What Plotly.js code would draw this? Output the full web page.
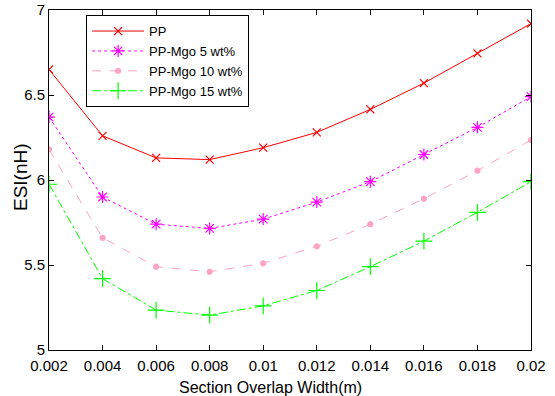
<!DOCTYPE html>
<html><head><meta charset="utf-8">
<script src="https://cdn.plot.ly/plotly-3.0.1.min.js"></script>
<style>html,body{margin:0;padding:0;background:#fff;}#chart{width:555px;height:396px;}</style>
</head><body><div id="chart"></div>
<script>
const widths = [0.002, 0.004, 0.006, 0.008, 0.010, 0.012, 0.014, 0.016, 0.018, 0.020];
const tickLabels = ["0.002","0.004","0.006","0.008","0.01","0.012","0.014","0.016","0.018","0.02"];
const yTicks = [5, 5.5, 6, 6.5, 7];
const yTickLabels = ["5", "5.5", "6", "6.5", "7"];
const seriesNames = ["PP", "PP-Mgo 5 wt%", "PP-Mgo 10 wt%", "PP-Mgo 15 wt%"];
const esiPP     = [6.65, 6.26, 6.13, 6.12, 6.19, 6.28, 6.415, 6.57, 6.745, 6.92];
const esiMgo5   = [6.37, 5.90, 5.74, 5.715, 5.77, 5.87, 5.99, 6.15, 6.31, 6.49];
const esiMgo10  = [6.18, 5.66, 5.49, 5.46, 5.51, 5.61, 5.74, 5.89, 6.055, 6.235];
const esiMgo15  = [5.975, 5.42, 5.235, 5.205, 5.26, 5.35, 5.49, 5.64, 5.81, 5.99];

const styles = [
  {color:'#ff0000', dash:'solid',   symbol:'x-thin-open',        size:8},
  {color:'#ff00ff', dash:'dot',     symbol:'asterisk-open',      size:10},
  {color:'#ffa3c4', dash:'dash',    symbol:'circle',             size:5},
  {color:'#00ff00', dash:'dashdot', symbol:'cross-thin-open',    size:12}
];
const allY = [esiPP, esiMgo5, esiMgo10, esiMgo15];
const traces = allY.map((y,i)=>({
  x: widths, y: y, name: seriesNames[i], type:'scatter', mode:'lines+markers',
  line:{color:styles[i].color, width:1, dash:styles[i].dash},
  marker:{symbol:styles[i].symbol, size:styles[i].size, color:styles[i].color,
          line:{color:styles[i].color, width:1.2}}
}));

const fam = '"Liberation Sans", Arial, sans-serif';
const tickFont = {family:fam, size:15, color:'#000'};
const layout = {
  width:555, height:396,
  margin:{l:49, r:24, t:10, b:46},
  paper_bgcolor:'#fff', plot_bgcolor:'#fff',
  font: tickFont,
  showlegend:true,
  legend:{x:0.077, y:0.985, xanchor:'left', yanchor:'top', bgcolor:'#fff',
          bordercolor:'#000', borderwidth:1, font:{family:fam, size:13, color:'#000'},
          itemwidth:52, tracegroupgap:0},
  xaxis:{range:[0.002,0.02], tickvals:widths, ticktext:tickLabels, ticks:'inside', ticklen:5,
         tickcolor:'#000', showline:true, linecolor:'#000', linewidth:1, mirror:'ticks',
         showgrid:false, zeroline:false, tickfont:tickFont, ticklabelstandoff:2},
  yaxis:{range:[5,7], tickvals:yTicks, ticktext:yTickLabels, ticks:'inside', ticklen:5,
         tickcolor:'#000', showline:true, linecolor:'#000', linewidth:1, mirror:'ticks',
         showgrid:false, zeroline:false, tickfont:tickFont},
  annotations:[
    {text:'Section Overlap Width(m)', xref:'paper', yref:'paper', x:(270-49)/482, y:(350-387)/340,
     xanchor:'center', yanchor:'middle', showarrow:false, font:{family:fam, size:16, color:'#000'}},
    {text:'ESI(nH)', xref:'paper', yref:'paper', x:(20-49)/482, y:(350-177)/340, textangle:-90,
     xanchor:'center', yanchor:'middle', showarrow:false, font:{family:fam, size:19, color:'#000'}}
  ]
};
Plotly.newPlot('chart', traces, layout, {displayModeBar:false, staticPlot:true});
</script></body></html>
